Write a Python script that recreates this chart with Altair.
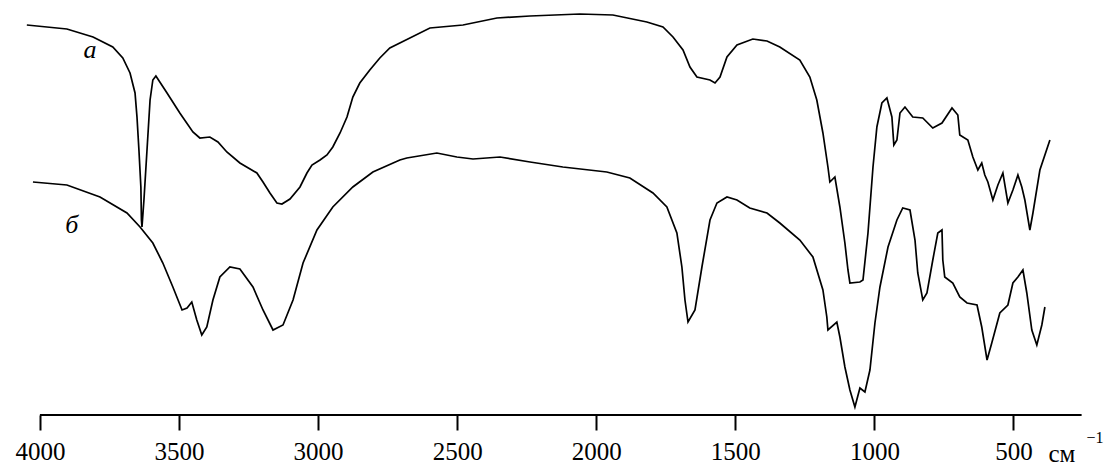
import altair as alt
import pandas as pd

# Curve "а": wavenumber (cm-1) and transmittance (arbitrary units)
a_wn = [4047, 3903, 3809, 3738, 3702, 3676, 3658, 3651, 3644, 3637, 3635, 3633,
        3626, 3615, 3604, 3594, 3583, 3543, 3497, 3450, 3425, 3389, 3360, 3328,
        3281, 3220, 3198, 3173, 3148, 3130, 3101, 3065, 3040, 3022, 2993, 2968,
        2947, 2921, 2896, 2875, 2850, 2814, 2778, 2742, 2706, 2598, 2479, 2357,
        2238, 2059, 1940, 1818, 1760, 1724, 1688, 1663, 1638, 1591, 1573, 1555,
        1530, 1494, 1437, 1386, 1340, 1268, 1232, 1207, 1185, 1167, 1160, 1142,
        1124, 1106, 1095, 1088, 1052, 1041, 1023, 1005, 991, 973, 955, 937, 930,
        919, 908, 890, 862, 826, 790, 757, 721, 700, 693, 664, 646, 628, 614, 603,
        592, 574, 556, 538, 520, 502, 484, 470, 459, 441, 430, 405, 369]
a_t = [390, 386, 378, 368, 357, 342, 322, 298, 265, 228, 195, 188,
       215, 265, 315, 335, 339, 322, 302, 283, 277, 278, 273, 263,
       252, 242, 233, 222, 212, 211, 216, 228, 242, 250, 255, 260,
       268, 282, 298, 318, 332, 345, 357, 367, 372, 387, 390, 397,
       399, 401, 400, 393, 388, 378, 365, 348, 338, 335, 332, 338,
       358, 370, 376, 374, 368, 355, 338, 315, 282, 248, 233, 238,
       208, 172, 145, 132, 133, 135, 182, 248, 288, 312, 317, 298, 270,
       275, 302, 308, 298, 297, 287, 292, 307, 300, 280, 275, 258, 245, 252, 240,
       233, 215, 230, 242, 212, 225, 240, 228, 215, 185, 202, 245, 275]

# Curve "б"
b_wn = [4025, 3903, 3784, 3687, 3640, 3594, 3558, 3522, 3489, 3471, 3454, 3436,
        3418, 3400, 3378, 3353, 3317, 3281, 3234, 3198, 3162, 3126, 3090, 3054,
        3004, 2947, 2875, 2803, 2706, 2681, 2573, 2501, 2443, 2346, 2238, 2120,
        1962, 1879, 1796, 1746, 1710, 1692, 1681, 1670, 1645, 1620, 1591, 1566,
        1530, 1494, 1448, 1386, 1340, 1268, 1221, 1185, 1171, 1167, 1135, 1124,
        1106, 1088, 1070, 1052, 1034, 1016, 998, 980, 951, 919, 898, 872, 854,
        844, 826, 811, 790, 772, 757, 754, 747, 718, 693, 667, 631, 614, 595,
        578, 549, 520, 502, 484, 466, 452, 434, 416, 398, 387]
b_t = [233, 230, 218, 202, 188, 172, 152, 128, 105, 107, 113, 95,
       80, 88, 115, 138, 148, 146, 128, 105, 85, 90, 115, 152,
       185, 208, 228, 243, 255, 257, 262, 258, 256, 258, 253, 248,
       243, 237, 222, 208, 182, 148, 115, 93, 105, 148, 195, 212,
       218, 215, 207, 202, 192, 175, 158, 125, 98, 85, 93, 78,
       48, 25, 8, 27, 23, 45, 92, 128, 168, 195, 207, 205, 175,
       142, 115, 122, 155, 182, 185, 155, 138, 132, 118, 112, 110, 88, 55,
       72, 102, 110, 132, 138, 145, 122, 85, 70, 90, 108]

tick_values = [4000, 3500, 3000, 2500, 2000, 1500, 1000, 500]

curve_labels = ["а", "б"]
label_wn = [3820, 3885]
label_t = [365, 190]

rows = []
for i, (w, t) in enumerate(zip(a_wn, a_t)):
    rows.append({"wn": w, "T": t, "curve": "а", "i": i})
for i, (w, t) in enumerate(zip(b_wn, b_t)):
    rows.append({"wn": w, "T": t, "curve": "б", "i": i})
df = pd.DataFrame(rows)

FONT = "Liberation Serif"

xscale = alt.Scale(domain=[250, 4050], reverse=True, nice=False, zero=False)
yscale = alt.Scale(domain=[0, 415], nice=False, zero=False)

lines = alt.Chart(df).mark_line(color="black", strokeWidth=1.7).encode(
    x=alt.X("wn:Q", scale=xscale,
            axis=alt.Axis(values=tick_values, title=None, domain=False, grid=False,
                          tickSize=15, tickWidth=2, tickColor="black",
                          labelFont=FONT, labelFontSize=25, labelColor="black",
                          labelPadding=9, format="d", labelFlush=False)),
    y=alt.Y("T:Q", scale=yscale, axis=None),
    detail="curve:N",
    order="i:Q",
)

axis_line = alt.Chart(pd.DataFrame({"x1": [4000], "x2": [255], "y": [0]})).mark_rule(
    color="black", strokeWidth=2
).encode(x="x1:Q", x2="x2:Q", y="y:Q")

labels_df = pd.DataFrame({"wn": label_wn, "T": label_t, "text": curve_labels})
curve_text = alt.Chart(labels_df).mark_text(
    font=FONT, fontSize=26, fontStyle="italic", color="black"
).encode(x="wn:Q", y="T:Q", text="text:N")

unit_df = pd.DataFrame({"wn": [326], "T": [-39], "text": ["см"]})
unit_text = alt.Chart(unit_df).mark_text(
    font=FONT, fontSize=25, color="black"
).encode(x="wn:Q", y="T:Q", text="text:N")

sup_df = pd.DataFrame({"wn": [207], "T": [-23], "text": ["−1"]})
sup_text = alt.Chart(sup_df).mark_text(
    font=FONT, fontSize=16, color="black"
).encode(x="wn:Q", y="T:Q", text="text:N")

chart = alt.layer(lines, axis_line, curve_text, unit_text, sup_text).properties(
    width=1057, height=415,
    padding={"left": 26, "top": 0, "right": 24, "bottom": 52},
    autosize=alt.AutoSizeParams(type="none"),
    background="white",
).configure_view(stroke=None)

chart.save("out.html", embed_options={"renderer": "svg", "actions": False})
